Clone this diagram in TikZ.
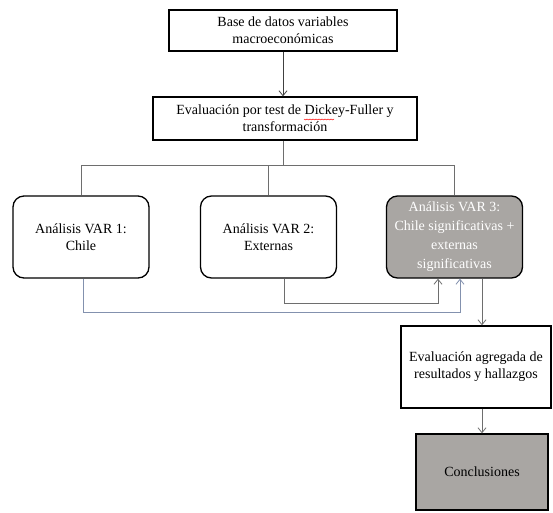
\documentclass[tikz,border=0pt]{standalone}
\usepackage{fontspec}
\setmainfont{Liberation Serif}
\usetikzlibrary{arrows.meta}
\definecolor{boxgray}{HTML}{A9A6A3}
\definecolor{linegray}{HTML}{6E6E6E}
\definecolor{lineblue}{HTML}{8391AE}
\begin{document}
\begin{tikzpicture}[x=1pt,y=-1pt,
  box/.style={draw=black, line width=1.3pt, align=center, inner sep=0pt, font=\fontsize{14}{17}\selectfont},
  rbox/.style={box, rounded corners=11pt, minimum width=136pt, minimum height=82pt},
  conn/.style={draw=linegray, line width=0.9pt},
  arr/.style={conn, -{Straight Barb[length=5pt,width=8pt,line width=0.8pt]}}]
\useasboundingbox (0,0) rectangle (553,512);
\node[box, minimum width=228pt, minimum height=41pt] (b1) at (283,30.5) {Base de datos variables\\macroeconómicas};
\node[box, minimum width=264pt, minimum height=43pt] (b2) at (285,118.5) {Evaluación por test de Dickey-Fuller y\\transformación};
\node[rbox] (v1) at (81,237) {Análisis VAR 1:\\Chile};
\node[rbox] (v2) at (268.5,237) {Análisis VAR 2:\\Externas};
\node[rbox, fill=boxgray, text=white, font=\fontsize{14}{19}\selectfont] (v3) at (454.5,237) {Análisis VAR 3:\\Chile significativas +\\externas\\significativas};
\node[box, minimum width=150pt, minimum height=82pt] (b4) at (476,367) {Evaluación agregada de\\resultados y hallazgos};
\node[box, fill=boxgray, minimum width=132pt, minimum height=76pt] (b5) at (482,472) {Conclusiones};
% spell-check squiggle under "Dickey"
\draw[red, line width=0.5pt] (304,119)
  \foreach \i in {1,...,20} { -- ({304+1.5*\i},{119+0.9*mod(\i,2)}) };
% connectors
\draw[arr, draw=black!75] (b1.south) -- (b1.south |- b2.north);
\coordinate (j) at (283,165);
\draw[conn] (b2.south -| j) -- (j);
\draw[conn] (v1.north) -- (v1.north |- j) -- (v3.north |- j) -- (v3.north);
\draw[conn] (v2.north) -- (v2.north |- j);
\draw[arr, draw=lineblue] ([xshift=2pt]v1.south) -- ++(0,34) -| ([xshift=5.5pt]v3.south);
\draw[arr] ([xshift=15.5pt]v2.south) -- ++(0,25) -| ([xshift=-16.5pt]v3.south);
\draw[arr] ([xshift=27.5pt]v3.south) -- ([xshift=27.5pt]v3.south |- b4.north);
\draw[arr] (b4.south -| b5.north) -- (b5.north);
\end{tikzpicture}
\end{document}
